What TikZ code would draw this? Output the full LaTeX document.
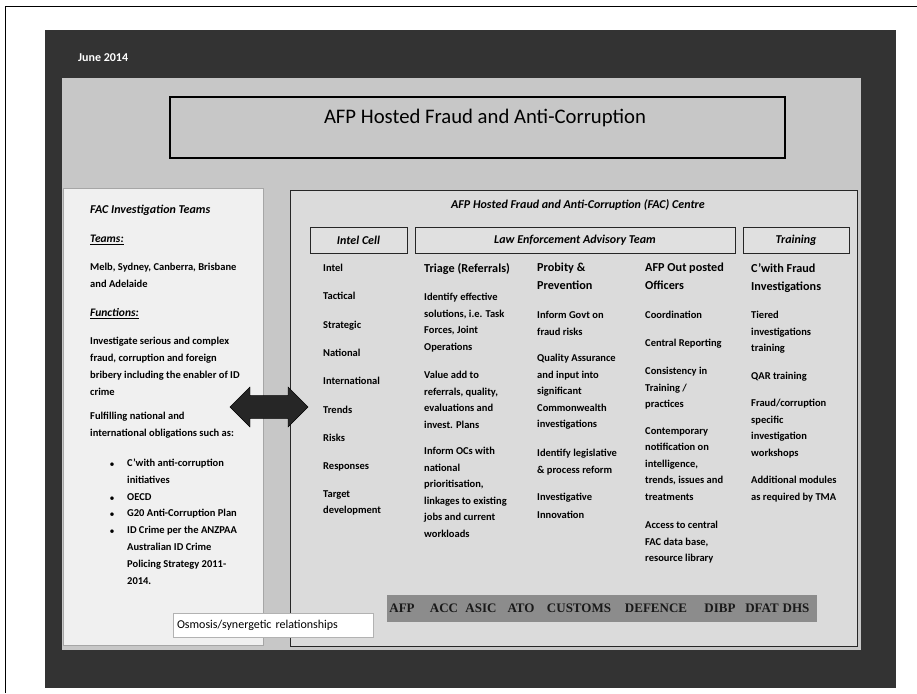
\documentclass[tikz,border=0pt]{standalone}
\usepackage{fontspec}
\setmainfont{Carlito}
\newfontfamily\agencyfont{Liberation Serif}
\usetikzlibrary{shapes.arrows}

\tikzset{
  slidebg/.style={fill=black!22, draw=none},
  panel/.style={draw=black!85, line width=0.7pt, fill=black!14, inner sep=0pt},
  cellhead/.style={draw=black!85, line width=0.8pt, fill=black!12, minimum height=26pt,
    inner sep=0pt, font=\bfseries\itshape\fontsize{12}{14}\selectfont},
  coltext/.style={anchor=north west, align=left, inner sep=0pt,
    font=\bfseries\fontsize{10.5}{16.6}\selectfont},
  colhead/.style={coltext, font=\bfseries\fontsize{12.2}{18}\selectfont},
  teamtext/.style={coltext, font=\bfseries\fontsize{10.5}{17}\selectfont},
  teamlbl/.style={coltext, font=\bfseries\itshape\fontsize{11.5}{14}\selectfont},
  dot/.style={inner sep=0pt, font=\fontsize{10}{10}\selectfont},
  agency/.style={inner sep=0pt, text=black!90, font=\agencyfont\bfseries\fontsize{13}{13}\selectfont},
}

\begin{document}
\begin{tikzpicture}[x=1pt,y=-1pt]
    \useasboundingbox (0,0) rectangle (917,693);
    % frame and slide
    \draw [line width=0.8pt] (5,693) -- (5,6) -- (917,6);
    \fill [black!80] (45,30) rectangle (896,688);
    \fill [slidebg] (62,78) rectangle (861,650);
    \node [anchor=west, inner sep=0pt, text=white, font=\bfseries\fontsize{12}{14}\selectfont] (date) at (78,58) {June 2014};

    % title
    \node [draw, line width=1.3pt, fill=black!22, minimum width=615pt, minimum height=61pt] (titlebox) at (477.5,127.5) {};
    \node [font=\fontsize{20.7}{24}\selectfont] (title) at (485,118) {AFP Hosted Fraud and Anti-Corruption};

    % left panel
    \node [fill=black!6, draw=black!35, minimum width=200pt, minimum height=457pt, inner sep=0pt] (teams) at (163,416.5) {};
    \node [teamlbl, font=\bfseries\itshape\fontsize{12}{14}\selectfont] (tmhead) at (90,205) {FAC Investigation Teams};
    \node [teamlbl] (tmlbl) at (90,235) {\underline{Teams:}};
    \node [teamtext] (cities) at (90,263) {Melb, Sydney, Canberra, Brisbane\\and Adelaide};
    \node [teamlbl] (fnlbl) at (90,308) {\underline{Functions:}};
    \node [teamtext] (fn1) at (90,337) {Investigate serious and complex\\fraud, corruption and foreign\\bribery including the enabler of ID\\crime};
    \node [teamtext] (fn2) at (90,412) {Fulfilling national and\\international obligations such as:};
    \node [dot] (b1) at (112,465) {\textbullet};
    \node [dot] (b2) at (112,499) {\textbullet};
    \node [dot] (b3) at (112,515) {\textbullet};
    \node [dot] (b4) at (112,532) {\textbullet};
    \node [teamtext] (ob1) at (127,459) {C'with anti-corruption\\initiatives};
    \node [teamtext] (ob2) at (127,493) {OECD};
    \node [teamtext] (ob3) at (127,509) {G20 Anti-Corruption Plan};
    \node [teamtext] (ob4) at (127,526) {ID Crime per the ANZPAA\\Australian ID Crime\\Policing Strategy 2011-\\2014.};

    % centre
    \node [panel, minimum width=567pt, minimum height=456pt] (centre) at (573.5,418) {};
    \node [font=\bfseries\itshape\fontsize{12}{14}\selectfont] (centrehead) at (578,205) {AFP Hosted Fraud and Anti-Corruption (FAC) Centre};
    \node [cellhead, minimum width=97pt] (intel) at (358.5,240) {Intel Cell};
    \node [cellhead, minimum width=320pt] (leat) at (575,240) {Law Enforcement Advisory Team};
    \node [cellhead, minimum width=106pt] (train) at (796,240) {Training};

    % intel cell
    \node [coltext, font=\bfseries\fontsize{10.5}{28.3}\selectfont] (ic1) at (323,264) {Intel\\Tactical\\Strategic\\National\\International\\Trends\\Risks\\Responses};
    \node [coltext] (ic2) at (323,490) {Target\\development};

    % triage
    \node [colhead] (tr0) at (424,263) {Triage (Referrals)};
    \node [coltext] (tr1) at (424,293) {Identify effective\\solutions, i.e. Task\\Forces, Joint\\Operations};
    \node [coltext] (tr2) at (424,371) {Value add to\\referrals, quality,\\evaluations and\\invest. Plans};
    \node [coltext] (tr3) at (424,447) {Inform OCs with\\national\\prioritisation,\\linkages to existing\\jobs and current\\workloads};

    % probity
    \node [colhead] (pr0) at (537,263) {Probity \&\\Prevention};
    \node [coltext] (pr1) at (537,311) {Inform Govt on\\fraud risks};
    \node [coltext] (pr2) at (537,354) {Quality Assurance\\and input into\\significant\\Commonwealth\\investigations};
    \node [coltext] (pr3) at (537,449) {Identify legislative\\\& process reform};
    \node [coltext, font=\bfseries\fontsize{10.5}{18}\selectfont] (pr4) at (537,493) {Investigative\\Innovation};

    % out posted officers
    \node [colhead] (op0) at (645,263) {AFP Out posted\\Officers};
    \node [coltext] (op1) at (645,311) {Coordination};
    \node [coltext] (op2) at (645,339) {Central Reporting};
    \node [coltext] (op3) at (645,367) {Consistency in\\Training /\\practices};
    \node [coltext] (op4) at (645,427) {Contemporary\\notification on\\intelligence,\\trends, issues and\\treatments};
    \node [coltext] (op5) at (645,521) {Access to central\\FAC data base,\\resource library};

    % training
    \node [colhead] (tn0) at (751,263) {C'with Fraud\\Investigations};
    \node [coltext] (tn1) at (751,311) {Tiered\\investigations\\training};
    \node [coltext] (tn2) at (751,372) {QAR training};
    \node [coltext] (tn3) at (751,399) {Fraud/corruption\\specific\\investigation\\workshops};
    \node [coltext] (tn4) at (751,476) {Additional modules\\as required by TMA};

    % agencies
    \node [fill=black!45, minimum width=430pt, minimum height=27pt] (agencybar) at (602,608.5) {};
    \node [agency] (afp) at (402,608) {AFP};
    \node [agency] (acc) at (444,608) {ACC};
    \node [agency] (asic) at (481,608) {ASIC};
    \node [agency] (ato) at (521,608) {ATO};
    \node [agency] (customs) at (579,608) {CUSTOMS};
    \node [agency] (defence) at (656,608) {DEFENCE};
    \node [agency] (dibp) at (720,608) {DIBP};
    \node [agency] (dfat) at (762,608) {DFAT};
    \node [agency] (dhs) at (796,608) {DHS};

    % osmosis
    \node [double arrow, fill=black!85, draw=black, minimum width=40pt, minimum height=78pt,
      inner sep=11pt, double arrow head extend=8.5pt] (osmo) at (269,407) {};
    \node [fill=white, draw=black!30, minimum height=24pt, text width=192pt, inner xsep=4pt,
      align=left, font=\fontsize{12}{14}\selectfont] (osmolbl) at (273,625) {Osmosis/synergetic relationships};
\end{tikzpicture}
\end{document}
